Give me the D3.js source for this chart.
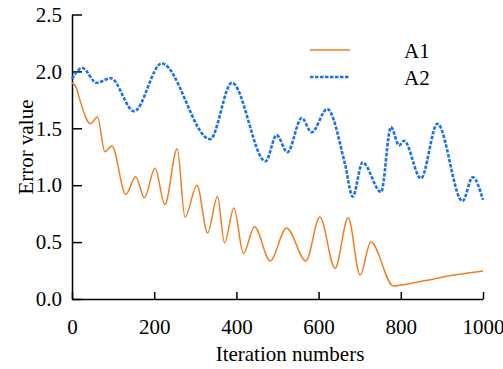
<!DOCTYPE html>
<html>
<head>
<meta charset="utf-8">
<script src="https://cdn.jsdelivr.net/npm/d3@7"></script>
<style>
  body { margin: 0; background: #fff; }
  text { font-family: "Liberation Serif", "Times New Roman", serif; fill: #000; }
</style>
</head>
<body>
<script>
/*
 * Error value against iteration numbers for two runs, A1 and A2.
 */

// iteration numbers and error values
const iterA1 = [0, 10, 19, 45, 62, 80, 97, 131, 155, 176, 202, 226, 256, 275, 304, 330,
  354, 371, 394, 417, 444, 482, 522, 569, 603, 640, 672, 701, 727, 782, 850, 930, 1000];
const errA1 = [1.90, 1.86, 1.75, 1.54, 1.60, 1.295, 1.345, 0.92, 1.075, 0.89, 1.15, 0.83, 1.32, 0.72, 1.00, 0.58,
  0.90, 0.495, 0.80, 0.40, 0.635, 0.335, 0.625, 0.335, 0.72, 0.27, 0.715, 0.21, 0.50, 0.115, 0.155, 0.21, 0.245];

const iterA2 = [0, 25, 60, 94, 151, 218, 336, 389, 471, 498, 524, 559, 583, 621, 664,
  683, 707, 752, 776, 796, 808, 849, 889, 950, 975, 1000];
const errA2 = [1.935, 2.03, 1.90, 1.94, 1.65, 2.07, 1.405, 1.90, 1.21, 1.44, 1.29, 1.59, 1.465, 1.67, 1.19,
  0.90, 1.20, 0.94, 1.51, 1.35, 1.39, 1.06, 1.54, 0.86, 1.07, 0.87];

const seriesNames = ['A1', 'A2'];
const xTicks = [0, 200, 400, 600, 800, 1000];
const yTicks = [0, 0.5, 1.0, 1.5, 2.0, 2.5];

const canvasWidth = 503;
const canvasHeight = 369;
const plotLeft = 72;
const plotRight = 483;
const plotTop = 14.5;
const plotBottom = 299;
const fontSize = '21px';
const fontFamily = '"Liberation Serif", "Times New Roman", serif';

const xScale = d3.scaleLinear()
    .domain([0, 1000])
    .range([plotLeft, plotRight]);

const yScale = d3.scaleLinear()
    .domain([0, 2.5])
    .range([plotBottom, plotTop]);

const svg = d3.select('body')
  .append('svg')
    .attr('width', canvasWidth)
    .attr('height', canvasHeight);

/*
 * Axes: ticks point into the plot, labels outside.
 */

const xAxis = d3.axisBottom(xScale)
    .tickValues(xTicks)
    .tickFormat(d3.format('d'))
    .tickSize(-7)
    .tickSizeOuter(0)
    .tickPadding(20);

svg.append('g')
    .attr('transform', `translate(0, ${plotBottom})`)
    .call(xAxis);

const yAxis = d3.axisLeft(yScale)
    .tickValues(yTicks)
    .tickFormat(d3.format('.1f'))
    .tickSize(-10)
    .tickSizeOuter(0)
    .tickPadding(10);

svg.append('g')
    .attr('transform', `translate(${plotLeft}, 0)`)
    .call(yAxis);

svg.selectAll('g')
    .attr('font-family', fontFamily);

svg.selectAll('.domain, .tick line')
    .attr('stroke', '#000')
    .attr('stroke-width', 1.5);

svg.selectAll('.tick text')
    .style('font-size', fontSize);

// axis titles
svg.append('text')
    .attr('x', 290)
    .attr('y', 361)
    .attr('text-anchor', 'middle')
    .style('font-size', fontSize)
    .text('Iteration numbers');

svg.append('text')
    .attr('transform', 'translate(33, 147) rotate(-90)')
    .attr('text-anchor', 'middle')
    .style('font-size', fontSize)
    .text('Error value');

/*
 * The two lines.
 */

const line = d3.line()
    .x(d => xScale(d[0]))
    .y(d => yScale(d[1]))
    .curve(d3.curveMonotoneX);

const styles = [
  { color: '#ef7f22', width: 1.5, dash: null },
  { color: '#1a73e6', width: 2.6, dash: '3.5,1.5' }
];

const seriesData = [
  d3.zip(iterA1, errA1),
  d3.zip(iterA2, errA2)
];

seriesData.forEach((pts, i) => {
  svg.append('path')
      .datum(pts)
      .attr('fill', 'none')
      .attr('stroke', styles[i].color)
      .attr('stroke-width', styles[i].width)
      .attr('stroke-dasharray', styles[i].dash)
      .attr('d', line);
});

/*
 * Legend.
 */

const legend = svg.append('g');

seriesNames.forEach((name, i) => {
  const y = 50 + i * 27;
  legend.append('line')
      .attr('x1', 310)
      .attr('x2', 350)
      .attr('y1', y)
      .attr('y2', y)
      .attr('stroke', styles[i].color)
      .attr('stroke-width', styles[i].width)
      .attr('stroke-dasharray', styles[i].dash);
  legend.append('text')
      .attr('x', 404)
      .attr('y', y + 8)
      .style('font-size', fontSize)
      .text(name);
});
</script>
</body>
</html>
